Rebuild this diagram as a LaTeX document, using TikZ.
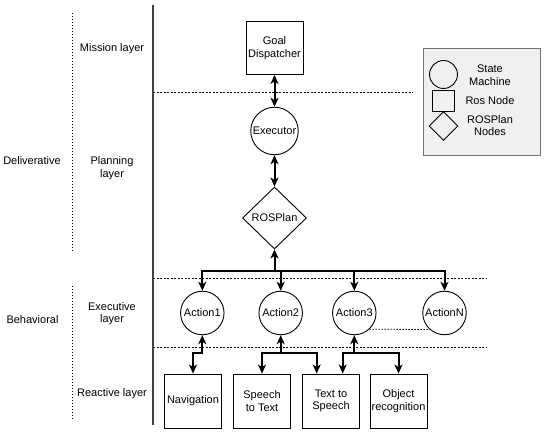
\documentclass[tikz,border=0pt]{standalone}
\usepackage{fontspec}
\setmainfont{Liberation Sans}
\usetikzlibrary{shapes.geometric,arrows.meta,calc}
\begin{document}
\begin{tikzpicture}[x=1pt,y=-1pt,
  every node/.style={font=\fontsize{11}{12.5}\selectfont, align=center},
  rosbox/.style={draw, line width=0.9pt, minimum width=57pt, minimum height=53pt, inner sep=1pt},
  smach/.style={draw, circle, line width=0.9pt, minimum size=43.5pt, inner sep=0pt},
  rplan/.style={draw, diamond, line width=0.9pt, minimum width=64pt, minimum height=62pt, inner sep=0pt},
  conn/.style={line width=2pt, arrows={-}, >={Stealth[length=9pt,width=8pt,inset=2.5pt]}},
  sep/.style={line width=0.7pt, dash pattern=on 2pt off 1.5pt},
  grp/.style={line width=0.8pt, dash pattern=on 1.5pt off 1.5pt},
  lbl/.style={}
]
\useasboundingbox (0,0) rectangle (550,435);
% left structure
\draw[line width=1.1pt, black!75] (153,5) -- (153,425);
\draw[grp] (72,13) -- (72,252);
\draw[grp] (72,286) -- (72,421);
\node[lbl] (delib) at (32,161) {Deliverative};
\node[lbl] (behav) at (32.5,320) {Behavioral};
\node[lbl] (mission) at (112,48.5) {Mission layer};
\node[lbl] (planning) at (112,168) {Planning\\layer};
\node[lbl] (executive) at (112,313.5) {Executive\\layer};
\node[lbl] (reactive) at (112,393.5) {Reactive layer};
% separators
\draw[sep] (153,92) -- (413,92);
\draw[sep] (153,278) -- (487,278);
\draw[sep] (153,347) -- (487,347);
% nodes
\node[rosbox] (goal) at (274.5,48) {Goal\\Dispatcher};
\node[smach, minimum size=47.5pt] (exec) at (274.5,131) {Executor};
\node[rplan] (rosplan) at (274.5,218) {ROSPlan};
\node[smach] (a1) at (202.3,313) {Action1};
\node[smach] (a2) at (280.7,313) {Action2};
\node[smach] (a3) at (354.3,313) {Action3};
\node[smach] (aN) at (444.5,313) {ActionN};
\node[rosbox, minimum height=54pt] (nav) at (193,401) {Navigation};
\node[rosbox, minimum height=54pt] (stt) at (262,401) {Speech\\to Text};
\node[rosbox, minimum height=54pt] (tts) at (331,401) {Text to\\Speech};
\node[rosbox, minimum height=54pt] (obj) at (398.5,401) {Object\\recognition};
\coordinate (ttsL) at ($(tts.north)+(-14.3,0)$);
\coordinate (ttsR) at ($(tts.north)+(11.7,0)$);
% connectors
\draw[conn,<->] (goal.south) -- (exec.north);
\draw[conn,<->] (exec.south) -- (rosplan.north);
\draw[conn,<->] (rosplan.south) -- ++(0,21.7) -| (a1.north);
\draw[conn,->] (rosplan.south) ++(0,21.7) -| (a2.north);
\draw[conn,->] (rosplan.south) ++(0,21.7) -| (a3.north);
\draw[conn,->] (rosplan.south) ++(0,21.7) -| (aN.north);
\draw[grp] (a3.-47.5) -- (aN.-132.5);
\draw[conn,<->] (a1.south) -- ++(0,18) -| (nav.north);
\draw[conn,<->] (a2.south) -- ++(0,18) -| (stt.north);
\draw[conn,->] (a2.south) ++(0,18) -| (ttsL);
\draw[conn,<->] (a3.south) -- ++(0,18) -| (ttsR);
\draw[conn,->] (a3.south) ++(0,18) -| (obj.north);
% legend
\node[draw=black!55, fill=black!6, line width=0.8pt, minimum width=117pt, minimum height=107pt] (legend) at (481.5,101.5) {};
\node[draw, circle, line width=0.9pt, minimum size=28pt, inner sep=0pt] (lc) at (443.5,74.5) {};
\node[draw, line width=0.9pt, minimum size=21.5pt, inner sep=0pt] (ls) at (443.5,101) {};
\node[draw, diamond, line width=0.9pt, minimum size=29pt, inner sep=0pt] (ld) at (443.5,126) {};
\node (lct) at (490,75) {State\\Machine};
\node (lst) at (490,101) {Ros Node};
\node (ldt) at (490,125.5) {ROSPlan\\Nodes};
\end{tikzpicture}
\end{document}
